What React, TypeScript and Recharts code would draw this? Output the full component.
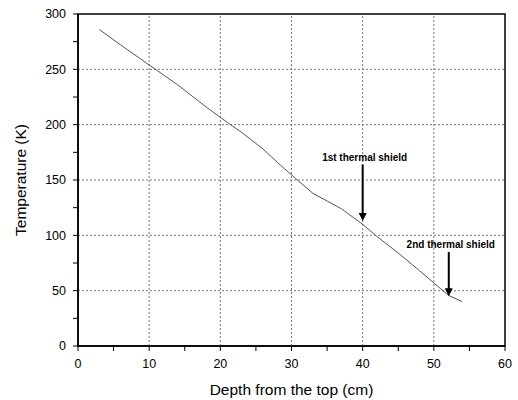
import React from "react";
import {
  LineChart,
  Line,
  XAxis,
  YAxis,
  ReferenceLine,
  ReferenceArea,
} from "recharts";

// Temperature profile
const depth = [3, 6, 10, 14, 18, 21, 23, 26, 28, 31, 33, 35, 37, 40, 42, 45, 48, 50, 52, 54];
const temperature = [286, 272, 254, 236, 216, 202, 193, 178, 166, 149, 138, 131, 124, 110, 99, 84, 68, 57, 46, 40];

const xTicks = [0, 5, 10, 15, 20, 25, 30, 35, 40, 45, 50, 55, 60];
const yTicks = [0, 25, 50, 75, 100, 125, 150, 175, 200, 225, 250, 275, 300];
const xGrid = [10, 20, 30, 40, 50];
const yGrid = [50, 100, 150, 200, 250];

const shieldLabels = ["1st thermal shield", "2nd thermal shield"];
const shieldDepth = [40, 52.1];
const shieldFrom = [164, 85];
const shieldTo = [113, 45];

const data = depth.map((d, i) => ({ depth: d, temp: temperature[i] }));

const FONT = "Arial, 'Liberation Sans', sans-serif";

function XTick(props: any) {
  const { x, y, payload } = props;
  if (payload.value % 10 !== 0) return null;
  return (
    <text x={x} y={y} dy="0.71em" textAnchor="middle" fontSize={12.5} fill="#000" fontFamily={FONT}>
      {payload.value}
    </text>
  );
}

function YTick(props: any) {
  const { x, y, payload } = props;
  if (payload.value % 50 !== 0) return null;
  return (
    <text x={x} y={y} dy="0.35em" textAnchor="end" fontSize={12.5} fill="#000" fontFamily={FONT}>
      {payload.value}
    </text>
  );
}

function arrowShape(label: string) {
  return (p: any) => {
    const { x1, y1, x2, y2 } = p;
    const top = Math.min(y1, y2);
    const tip = Math.max(y1, y2);
    return (
      <g>
        <line x1={x1} y1={top} x2={x1} y2={tip - 7} stroke="#000" strokeWidth={2} />
        <polygon points={`${x1 - 4},${tip - 8} ${x1 + 4},${tip - 8} ${x1},${tip}`} fill="#000" />
        <text
          x={x1 + 2}
          y={top - 4}
          textAnchor="middle"
          fontSize={10}
          fontWeight="bold"
          fill="#000"
          fontFamily={FONT}
        >
          {label}
        </text>
      </g>
    );
  };
}

export default function App() {
  return (
    <div style={{ position: "absolute", left: 0, top: 0, background: "#fff" }}>
      <LineChart
        width={518}
        height={400}
        data={data}
        margin={{ top: 14, right: 13, bottom: 0, left: 0 }}
      >
        <XAxis
          dataKey="depth"
          type="number"
          domain={[0, 60]}
          ticks={xTicks}
          interval={0}
          height={54}
          tickSize={5}
          tickMargin={8.5}
          tick={<XTick />}
          axisLine={{ stroke: "#000", strokeWidth: 1.5 }}
          tickLine={{ stroke: "#000" }}
          label={{
            content: (p: any) => {
              const vb = p.viewBox;
              return (
                <text
                  x={vb.x + vb.width / 2}
                  y={vb.y + 49}
                  textAnchor="middle"
                  fontSize={15.5}
                  fill="#000"
                  fontFamily={FONT}
                >
                  Depth from the top (cm)
                </text>
              );
            },
          }}
        />
        <YAxis
          type="number"
          domain={[0, 300]}
          ticks={yTicks}
          interval={0}
          width={78}
          tickSize={5}
          tickMargin={7}
          tick={<YTick />}
          axisLine={{ stroke: "#000", strokeWidth: 1.5 }}
          tickLine={{ stroke: "#000" }}
          label={{
            content: (p: any) => {
              const vb = p.viewBox;
              const cx = vb.x + 26;
              const cy = vb.y + vb.height / 2;
              return (
                <text
                  x={cx}
                  y={cy}
                  transform={`rotate(-90 ${cx} ${cy})`}
                  textAnchor="middle"
                  fontSize={15.5}
                  fill="#000"
                  fontFamily={FONT}
                >
                  Temperature (K)
                </text>
              );
            },
          }}
        />
        {xGrid.map((v) => (
          <ReferenceLine key={`gx${v}`} x={v} stroke="#777" strokeDasharray="2 2" />
        ))}
        {yGrid.map((v) => (
          <ReferenceLine key={`gy${v}`} y={v} stroke="#777" strokeDasharray="2 2" />
        ))}
        <ReferenceArea x1={0} x2={60} y1={0} y2={300} fill="none" stroke="#000" strokeWidth={1.5} />
        <Line
          type="linear"
          dataKey="temp"
          stroke="#555"
          strokeWidth={1}
          dot={false}
          isAnimationActive={false}
        />
        {shieldLabels.map((label, i) => (
          <ReferenceLine
            key={label}
            segment={[
              { x: shieldDepth[i], y: shieldFrom[i] },
              { x: shieldDepth[i], y: shieldTo[i] },
            ]}
            shape={arrowShape(label)}
          />
        ))}
      </LineChart>
    </div>
  );
}
